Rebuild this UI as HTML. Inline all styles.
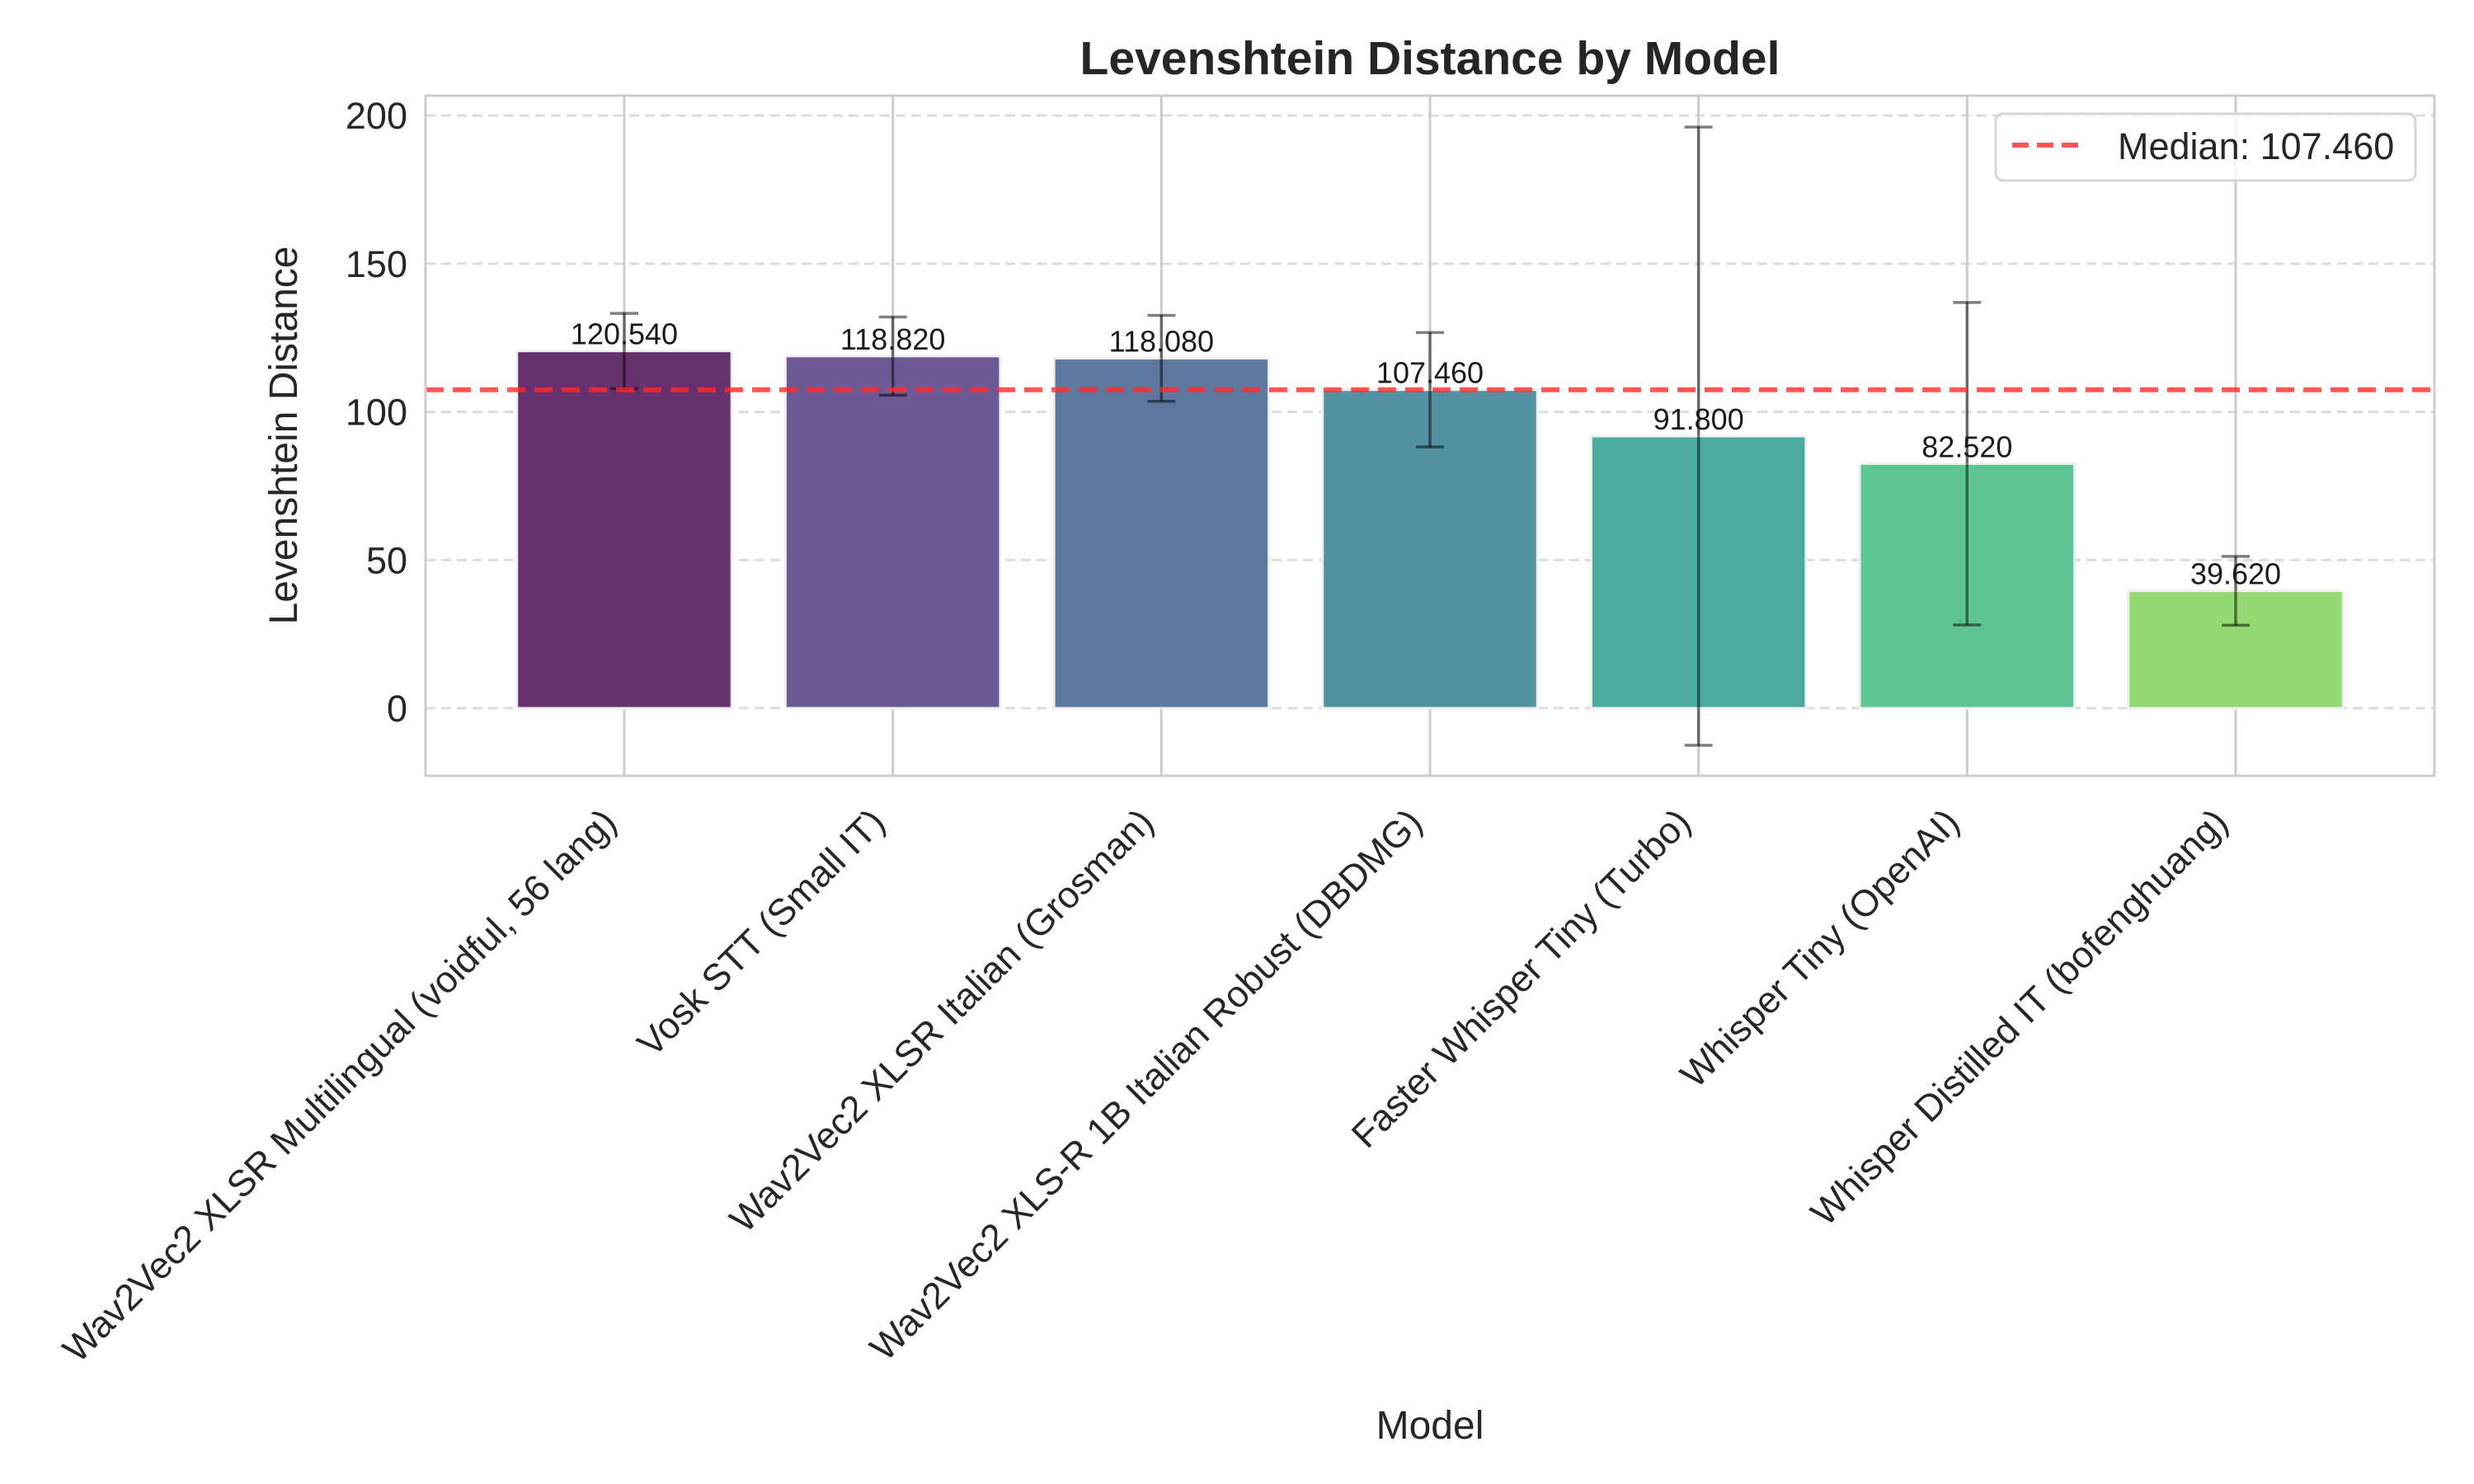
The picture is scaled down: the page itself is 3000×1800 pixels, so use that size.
<!DOCTYPE html>
<html><head><meta charset="utf-8"><style>
html,body{margin:0;padding:0;background:#fff;}
svg{display:block;font-family:"Liberation Sans",Arial,sans-serif;}
</style></head><body>
<svg id="chart" width="3000" height="1800" viewBox="0 0 3000 1800" xmlns="http://www.w3.org/2000/svg">
<rect width="3000" height="1800" fill="#fff"/>
<g id="grid"></g>
<g id="bars"></g>
<g id="errs"></g>
<g id="labels"></g>
<g id="axes"></g>
</svg>
<script>
const categories = ["Wav2Vec2 XLSR Multilingual (voidful, 56 lang)","Vosk STT (Small IT)","Wav2Vec2 XLSR Italian (Grosman)","Wav2Vec2 XLS-R 1B Italian Robust (DBDMG)","Faster Whisper Tiny (Turbo)","Whisper Tiny (OpenAI)","Whisper Distilled IT (bofenghuang)"];
const values = [120.54,118.82,118.08,107.46,91.8,82.52,39.62];
const errors = [12.7,13.2,14.5,19.3,104.3,54.4,11.6];
const valueLabels = ["120.540","118.820","118.080","107.460","91.800","82.520","39.620"];
const barColors = ["#67306f","#6d5a95","#5f78a0","#5392a2","#4cab9f","#5dc592","#93d870"];
const yTicks = [0,50,100,150,200];
const medianValue = 107.46;
const medianLabel = "Median: 107.460";

const NS="http://www.w3.org/2000/svg";
const L=516,R=2952,T=116,B=941;
const yMin=-22.8,yMax=206.7;
const n=categories.length;
const step=(R-L)/(n-1+0.8+0.68);
function xPos(i){return L+(0.74+i)*step;}
function yPos(v){return B-(v-yMin)/(yMax-yMin)*(B-T);}
function mk(tag,attrs,parent){const e=document.createElementNS(NS,tag);for(const k in attrs)e.setAttribute(k,attrs[k]);parent.appendChild(e);return e;}
const grid=document.getElementById('grid'),bars=document.getElementById('bars'),errs=document.getElementById('errs'),labels=document.getElementById('labels'),axes=document.getElementById('axes');

yTicks.forEach(t=>{
  const y=yPos(t);
  const g=mk('line',{x1:L,x2:R,y1:y,y2:y,stroke:'#dcdcdc','stroke-width':3,'stroke-dasharray':'12,7'},grid);
  
  
  const tx=mk('text',{x:L-22,y:y+16,'text-anchor':'end','font-size':45,fill:'#262626'},axes);
  tx.textContent=t;
  
  
});
categories.forEach((c,i)=>{
  const x=xPos(i);
  const g=mk('line',{x1:x,x2:x,y1:T,y2:B,stroke:'#cccccc','stroke-width':3},grid);
  
  
  const w=step*0.8;
  const r=mk('rect',{x:x-w/2,y:yPos(values[i]),width:w,height:yPos(0)-yPos(values[i]),fill:barColors[i],stroke:'#eef0f2','stroke-width':3},bars);
  
  
  const eg=mk('g',{stroke:'#000','stroke-opacity':0.5,'stroke-width':3.5},errs);
  
  
  const y1=yPos(values[i]+errors[i]),y2=yPos(values[i]-errors[i]);
  mk('line',{x1:x,x2:x,y1:y1,y2:y2},eg);
  mk('line',{x1:x-17,x2:x+17,y1:y1,y2:y1},eg);
  mk('line',{x1:x-17,x2:x+17,y1:y2,y2:y2},eg);
  const vl=mk('text',{x:x,y:yPos(values[i])-8,'text-anchor':'middle','font-size':36,fill:'#1a1a1a'},labels);
  vl.textContent=valueLabels[i];
  
  
  const px=x-7,py=1000;
  const xl=mk('text',{x:px,y:py,'text-anchor':'end','font-size':45,fill:'#262626',transform:`rotate(-45 ${px} ${py})`},axes);
  xl.textContent=c;
  
  
});
// median line
const ml=mk('line',{x1:L,x2:R,y1:yPos(medianValue),y2:yPos(medianValue),stroke:'#ff2a2a','stroke-opacity':0.8,'stroke-width':6,'stroke-dasharray':'22,11'},labels);


// spines
const sp=mk('rect',{x:L,y:T,width:R-L,height:B-T,fill:'none',stroke:'#cccccc','stroke-width':3},axes);


</script>
<svg style="position:absolute;left:0;top:0" width="3000" height="1800" xmlns="http://www.w3.org/2000/svg" font-family="Liberation Sans, Arial, sans-serif">
<text x="1734" y="90" text-anchor="middle" font-size="57" font-weight="bold" fill="#262626">Levenshtein Distance by Model</text>
<text x="360" y="528" text-anchor="middle" font-size="48" fill="#262626" transform="rotate(-90 360 528)">Levenshtein Distance</text>
<text x="1734" y="1745" text-anchor="middle" font-size="48" fill="#262626">Model</text>
<g>
<rect x="2420" y="138" width="509" height="81" rx="9" fill="#fff" fill-opacity="0.8" stroke="#d6d6d6" stroke-width="3"/>
<line x1="2440" x2="2530" y1="176" y2="176" stroke="#ff2a2a" stroke-opacity="0.8" stroke-width="6" stroke-dasharray="20,10"/>
<text x="2568" y="193" font-size="45" fill="#262626">Median: 107.460</text>
</g>
</svg>
</body></html>
